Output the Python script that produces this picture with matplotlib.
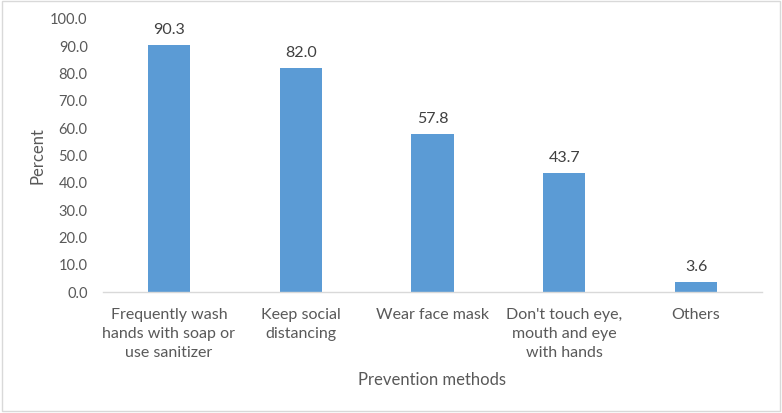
import matplotlib
matplotlib.use("Agg")
import matplotlib.pyplot as plt
from matplotlib.patches import Rectangle

categories = ["Frequently wash\nhands with soap or\nuse sanitizer",
              "Keep social\ndistancing",
              "Wear face mask",
              "Don't touch eye,\nmouth and eye\nwith hands",
              "Others"]
values = [90.3, 82.0, 57.8, 43.7, 3.6]
yticks = [0, 10, 20, 30, 40, 50, 60, 70, 80, 90, 100]

plt.rcParams['font.family'] = ['Lato', 'DejaVu Sans']
txt = '#595959'

fig = plt.figure(figsize=(7.82, 4.13), dpi=100)
ax = fig.add_axes([103/782, 1-292/413, (762-103)/782, (292-19)/413])

x = list(range(len(categories)))
bars = ax.bar(x, values, width=0.32, color='#5B9BD5', zorder=2)
for xi, v in zip(x, values):
    ax.text(xi, v + 3.0, f"{v:.1f}", ha='center', va='bottom', fontsize=11.5, color='#404040')

ax.set_xlim(-0.5, len(categories) - 0.5)
ax.set_ylim(0, 100)
ax.set_yticks(yticks)
ax.set_yticklabels([f"{t:.1f}" for t in yticks], fontsize=10.5, color=txt)
ax.set_xticks(x)
ax.set_xticklabels(categories, fontsize=11.5, color=txt, linespacing=1.45)
ax.tick_params(axis='both', length=0)
ax.tick_params(axis='y', pad=11)
ax.tick_params(axis='x', pad=11.5)
for s in ['top', 'right', 'left']:
    ax.spines[s].set_visible(False)
ax.spines['bottom'].set_color('#D9D9D9')
ax.spines['bottom'].set_linewidth(1.0)

ax.set_ylabel("Percent", fontsize=12, color=txt, labelpad=3.5)
ax.set_xlabel("Prevention methods", fontsize=12, color=txt, labelpad=9)

fig.patches.append(Rectangle((0.003, 0.004), 0.994, 0.993, transform=fig.transFigure,
                             fill=False, edgecolor='#D9D9D9', linewidth=1.0))

fig.savefig("out.png", dpi=100)
